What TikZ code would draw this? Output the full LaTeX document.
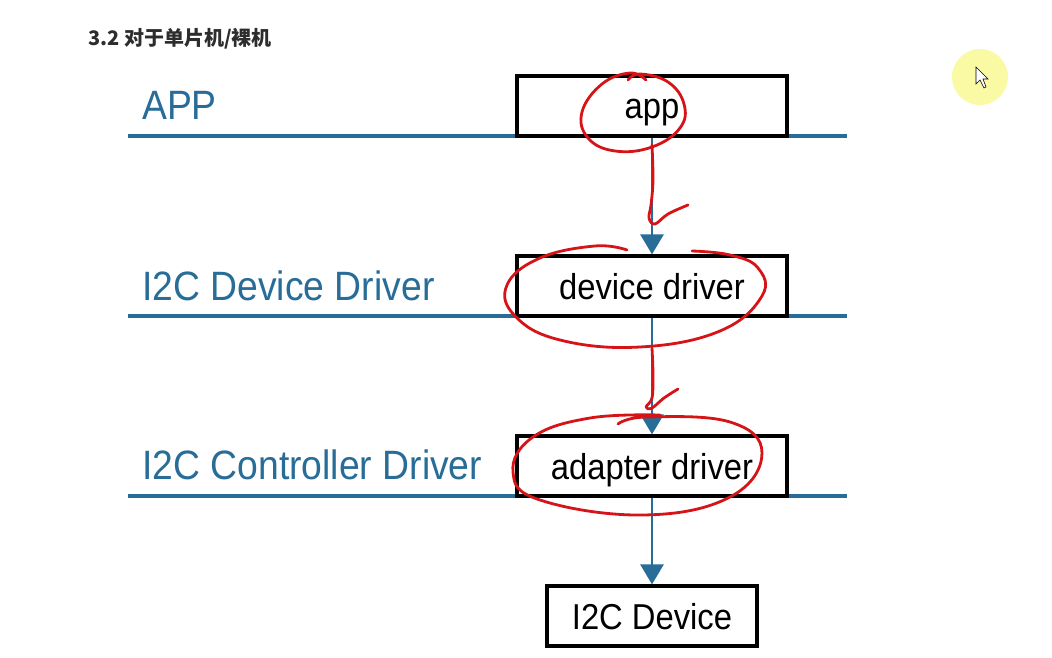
\documentclass[tikz,border=0pt]{standalone}
\usepackage{fontspec}
\usetikzlibrary{arrows.meta, positioning}
\newfontfamily\boxfont[FakeStretch=0.91]{Liberation Sans}
\newfontfamily\cjk{Noto Sans CJK SC}
\definecolor{lineblue}{RGB}{40,108,152}
\definecolor{redpen}{RGB}{214,20,24}
\definecolor{titlegray}{RGB}{45,45,45}
\definecolor{spot}{RGB}{250,250,165}

\begin{document}
\begin{tikzpicture}[x=1pt,y=-1pt,
  layer/.style={draw=lineblue,line width=3.2pt},
  lname/.style={anchor=base west,inner sep=0pt,text=lineblue,font=\boxfont\fontsize{41}{41}\selectfont},
  blk/.style={draw,line width=3.2pt,minimum width=270pt,minimum height=60pt,text height=26pt,text depth=0pt,inner sep=0pt,font=\boxfont\fontsize{36}{36}\selectfont},
  flow/.style={draw=lineblue,line width=2.8pt,-{Triangle[width=23pt,length=20pt]}},
  ink/.style={draw=redpen,line width=2.8pt,line cap=round,line join=round}]
\useasboundingbox (0,0) rectangle (1052,658);

% title
\node[anchor=base west,inner sep=0pt,text=titlegray,font=\cjk\bfseries\fontsize{20}{20}\selectfont] (T) at (88,46) {3.2 对于单片机/裸机};

% layers
\draw[layer] (128,136) -- (847,136);
\draw[layer] (128,316) -- (847,316);
\draw[layer] (128,496) -- (847,496);
\node[lname] (L1) at (142,120) {APP};
\node[lname] (L2) at (142,300) {I2C Device Driver};
\node[lname] (L3) at (142,479) {I2C Controller Driver};

% boxes
\node[blk] (app) at (652,106) {app};
\node[blk] (dev) at (652,286) {device driver};
\node[blk] (adp) at (652,466) {adapter driver};
\node[blk,minimum width=210pt] (i2cdev) at (652,616) {I2C Device};

\draw[flow] (app.south) -- (dev.north);
\draw[flow] (dev.south) -- (adp.north);
\draw[flow] (adp.south) -- (i2cdev.north);

% red pen marks
\draw[ink] plot[smooth,tension=0.7] coordinates {(646,80) (630,73) (602,84) (582,112) (588,138) (615,151) (652,147) (680,128) (684,104) (668,82) (640,74) (628,80)};
\draw[ink] plot[smooth,tension=0.7] coordinates {(627,250) (595,246) (540,258) (507,285) (515,316) (560,340) (640,347) (720,331) (762,296) (758,268) (730,255) (692,251)};
\draw[ink] plot[smooth,tension=0.7] coordinates {(618,424) (647,417) (730,422) (762,453) (730,497) (643,515) (540,500) (513,472) (533,437) (590,418) (660,415)};
\draw[ink] plot[smooth,tension=0.6] coordinates {(652,145) (653,180) (651,205) (649,218) (655,224) (668,214) (688,205)};
\draw[ink] plot[smooth,tension=0.6] coordinates {(652,348) (653,375) (652,398) (646,407) (652,408) (664,398) (678,389)};

% pointer highlight
\fill[spot] (980,77) circle (28);
\draw[fill=white,line width=0.6pt] (976,67) -- (976,84) -- (980,80) -- (984,88) -- (986,87) -- (983,79) -- (988,79) -- cycle;
\end{tikzpicture}
\end{document}
